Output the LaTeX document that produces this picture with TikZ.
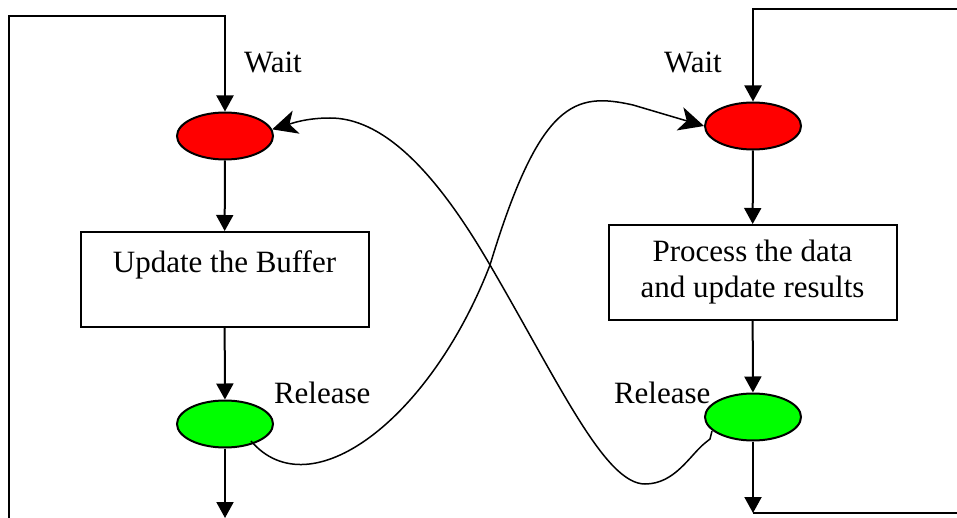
\documentclass[tikz,border=0pt]{standalone}
\usepackage{fontspec}
\setmainfont{Liberation Serif}
\newfontfamily\timesfont{Liberation Serif}
\usetikzlibrary{shapes.geometric,arrows.meta}

\begin{document}
\begin{tikzpicture}[x=1pt,y=-1pt,
    font=\timesfont\fontsize{31}{36}\selectfont,
    line width=2pt,
    waitsem/.style={ellipse,draw,fill=red,minimum width=96pt,minimum height=47pt,inner sep=0pt},
    relsem/.style={ellipse,draw,fill=green,minimum width=96pt,minimum height=47pt,inner sep=0pt},
    task/.style={rectangle,draw,align=center,inner sep=0pt,minimum width=288pt,minimum height=95pt},
    tag/.style={anchor=base west,inner sep=0pt},
    flow/.style={-{Triangle[length=16pt,width=17pt]}},
    sync/.style={line width=1.5pt,-{Stealth[length=25pt,width=24pt,inset=7pt]}}]
    \clip (0,0) rectangle (957,518);

    % Producer: wait, update, release
    \node[waitsem] (lWait) at (225,136) {};
    \node[task] (lUpdate) at (224.5,279.5) {Update the Buffer\\\mbox{}};
    \node[relsem] (lRelease) at (225,424) {};
    \node[tag] (lWaitTxt) at (243,73) {Wait};
    \node[tag] (lRelTxt) at (273,403) {Release};

    % Consumer: wait, process, release
    \node[waitsem] (rWait) at (753,126) {};
    \node[task] (rProcess) at (752.5,272.5) {Process the data\\and update results};
    \node[relsem] (rRelease) at (753,417) {};
    \node[tag] (rWaitTxt) at (663,73) {Wait};
    \node[tag] (rRelTxt) at (613,403) {Release};

    % Producer loop
    \coordinate (lBot) at (225,518);
    \coordinate (lLow) at (9,540);
    \coordinate (lLeft) at (9,16);
    \coordinate (lTop) at (225,16);
    \draw[flow] (lWait) -- (lUpdate);
    \draw[flow] (lUpdate) -- (lRelease);
    \draw[flow] (lRelease) -- (lBot);
    \draw[flow] (lLow) -- (lLeft) -- (lTop) -- (lWait);

    % Consumer loop
    \coordinate (rBot) at (753,513);
    \coordinate (rLow) at (980,513);
    \coordinate (rHigh) at (980,9);
    \coordinate (rTop) at (753,9);
    \draw[flow] (rWait) -- (rProcess);
    \draw[flow] (rProcess) -- (rRelease);
    \draw[flow] (rRelease) -- (rBot);
    \draw[flow] (rBot) -- (rLow) -- (rHigh) -- (rTop) -- (rWait);

    % Signals between the two sides
    \coordinate (cross) at (490,265);
    \coordinate (lTail) at (251,441);
    \coordinate (lKink) at (633,105);
    \draw[sync] (lTail) .. controls (310,510) and (430,420) .. (cross)
        .. controls (540,100) and (575,92) .. (lKink) -- (rWait.west);
    \coordinate (rTail) at (712,431);
    \draw[sync] (rTail) -- (710,439) -- (705,443)
        .. controls (690,455) and (675,484) .. (645,484)
        .. controls (605,484) and (560,385) .. (cross)
        .. controls (432,165) and (380,118) .. (330,118)
        .. controls (305,118) and (290,124) .. (lWait.8);
\end{tikzpicture}
\end{document}
